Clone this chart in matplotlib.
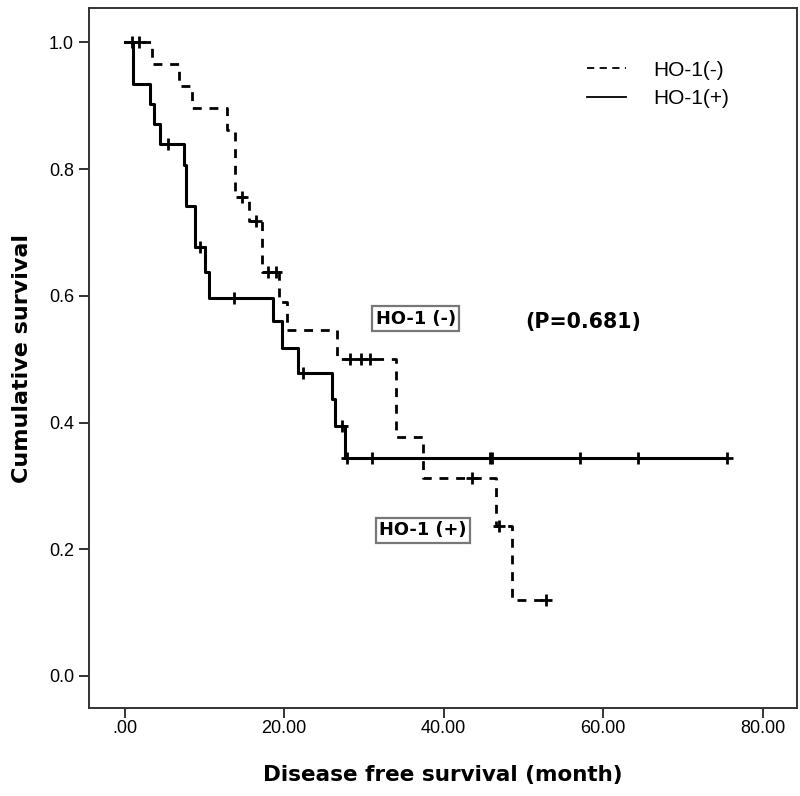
import matplotlib
matplotlib.use("Agg")
import matplotlib.pyplot as plt
import numpy as np
from matplotlib.lines import Line2D

# ---------------- data ----------------
# HO-1(-) : dashed curve
neg_times = [0, 3.4, 6.8, 8.5, 12.8, 13.9, 15.6, 17.2, 19.4, 20.3, 26.6, 34.0, 37.4, 46.6, 48.6, 52.8]
neg_surv = [1.0, 0.966, 0.931, 0.897, 0.862, 0.756, 0.718, 0.638, 0.591, 0.546, 0.500, 0.377, 0.313, 0.236, 0.120, 0.120]
neg_censored = [0.9, 1.8, 14.7, 16.5, 18.0, 19.0, 28.3, 29.7, 30.8, 43.6, 46.9, 52.8]

# HO-1(+) : solid curve
pos_times = [0, 1.1, 3.2, 3.7, 4.4, 7.45, 7.7, 8.8, 10.1, 10.6, 18.6, 19.7, 21.8, 26.0, 26.4, 27.6, 75.5]
pos_surv = [1.0, 0.935, 0.903, 0.871, 0.839, 0.806, 0.742, 0.677, 0.637, 0.597, 0.560, 0.518, 0.479, 0.437, 0.394, 0.344, 0.344]
pos_censored = [5.4, 9.4, 13.7, 22.4, 27.2, 27.9, 31.0, 45.8, 46.1, 57.1, 64.4, 75.5]

x_ticks = [0, 20, 40, 60, 80]
x_ticklabels = [".00", "20.00", "40.00", "60.00", "80.00"]
y_ticks = [0.0, 0.2, 0.4, 0.6, 0.8, 1.0]
y_ticklabels = ["0.0", "0.2", "0.4", "0.6", "0.8", "1.0"]

legend_labels = ["HO-1(-)", "HO-1(+)"]
p_text = "(P=0.681)"
box_neg_text = "HO-1 (-)"
box_pos_text = "HO-1 (+)"


def level_at(times, surv, t):
    idx = np.searchsorted(np.asarray(times), t, side="right") - 1
    return np.asarray(surv)[idx]


# ---------------- figure ----------------
fig = plt.figure(figsize=(8.0, 7.96), dpi=100)
ax = fig.add_axes([0.1116, 0.1106, 0.8846, 0.8790])

lw = 2.0
ax.step(neg_times, neg_surv, where="post", color="black", lw=lw,
        linestyle=(0, (3.2, 2.8)), zorder=3)
ax.step(pos_times, pos_surv, where="post", color="black", lw=lw + 0.2,
        linestyle="-", zorder=3)

neg_cy = [level_at(neg_times, neg_surv, t) for t in neg_censored]
pos_cy = [level_at(pos_times, pos_surv, t) for t in pos_censored]
ax.plot(neg_censored, neg_cy, linestyle="none", marker="+", markersize=9,
        mew=2.0, color="black", zorder=4)
ax.plot(pos_censored, pos_cy, linestyle="none", marker="+", markersize=9,
        mew=2.0, color="black", zorder=4)

ax.set_xlim(-4.43, 84.3)
ax.set_ylim(-0.0505, 1.054)

tick_font = dict(family="Liberation Sans", size=13)
ax.set_xticks(x_ticks)
ax.set_xticklabels(x_ticklabels, fontdict=tick_font)
ax.set_yticks(y_ticks)
ax.set_yticklabels(y_ticklabels, fontdict=tick_font)
ax.tick_params(axis="both", direction="out", length=7, width=1.3,
               color="#222222", pad=4)
ax.tick_params(axis="x", pad=2)

for sp in ax.spines.values():
    sp.set_linewidth(1.4)
    sp.set_color("#333333")

bold_font = dict(family="DejaVu Sans", weight="bold")
ax.set_xlabel("Disease free survival (month)", fontsize=15.5, labelpad=20, **bold_font)
ax.set_ylabel("Cumulative survival", fontsize=16, labelpad=12, **bold_font)

# legend
handles = [Line2D([], [], color="black", lw=1.3, linestyle=(0, (4.0, 3.0))),
           Line2D([], [], color="black", lw=1.3, linestyle="-")]
ax.legend(handles, legend_labels, loc="upper left", bbox_to_anchor=(0.703, 0.925),
          frameon=False, borderaxespad=0, borderpad=0, handlelength=1.9,
          handletextpad=1.3, labelspacing=0.45,
          prop=dict(family="Liberation Sans", size=15))

# annotations
box = dict(boxstyle="square,pad=0.2", facecolor="white", edgecolor="#777777", lw=1.6)
ax.text(36.5, 0.564, box_neg_text, ha="center", va="center", fontsize=12.8,
        bbox=box, zorder=5, **bold_font)
ax.text(37.4, 0.230, box_pos_text, ha="center", va="center", fontsize=12.8,
        bbox=box, zorder=5, **bold_font)
ax.text(57.5, 0.559, p_text, ha="center", va="center", fontsize=14.8, **bold_font)

fig.savefig("out.png", dpi=100, facecolor="white")
